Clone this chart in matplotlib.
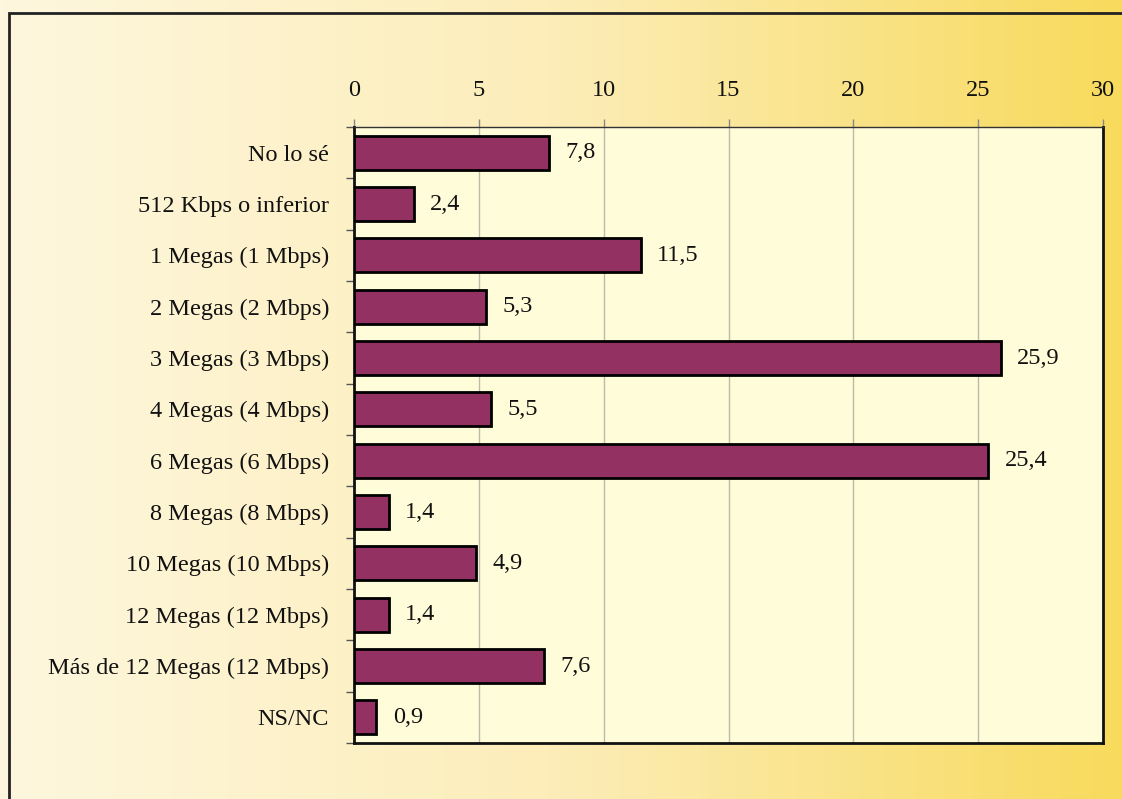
import numpy as np
import matplotlib.pyplot as plt
from matplotlib.colors import LinearSegmentedColormap
from matplotlib.patches import Rectangle

categorias = ['No lo sé', '512 Kbps o inferior', '1 Megas (1 Mbps)', '2 Megas (2 Mbps)',
              '3 Megas (3 Mbps)', '4 Megas (4 Mbps)', '6 Megas (6 Mbps)', '8 Megas (8 Mbps)',
              '10 Megas (10 Mbps)', '12 Megas (12 Mbps)', 'Más de 12 Megas (12 Mbps)', 'NS/NC']
valores = [7.8, 2.4, 11.5, 5.3, 25.9, 5.5, 25.4, 1.4, 4.9, 1.4, 7.6, 0.9]
ticks_x = [0, 5, 10, 15, 20, 25, 30]

plt.rcParams['font.family'] = ['Liberation Serif', 'DejaVu Serif']

fig = plt.figure(figsize=(11.22, 7.99), dpi=100)

# fondo degradado de la figura
bg = fig.add_axes([0, 0, 1, 1], zorder=-10)
cmap_bg = LinearSegmentedColormap.from_list('bg', ['#FEF7DE', '#FCEDB8', '#F8DA5C'])
bg.imshow(np.linspace(0, 1, 512)[None, :], aspect='auto', cmap=cmap_bg, extent=[0, 1, 0, 1])
bg.set_xlim(0, 1)
bg.set_ylim(0, 1)
bg.axis('off')
bg.add_patch(Rectangle((9 / 1122, -0.1), 1.2, 1 - 13 / 799 + 0.1, fill=False,
                       edgecolor='#222222', lw=2, transform=bg.transAxes))

ax = fig.add_axes([354 / 1122, 1 - 743 / 799, (1103 - 354) / 1122, (743 - 127) / 799])
ax.set_facecolor('#FFFCDA')

y = np.arange(len(categorias))
ax.barh(y, valores, height=0.66, color='#943163', edgecolor='black', lw=2, zorder=3)
for yi, v in zip(y, valores):
    ax.text(v + 0.65, yi, f'{v:.1f}'.replace('.', ','), va='center', ha='left',
            fontsize=17.5, color='#111111')

ax.set_xlim(0, 30)
ax.set_ylim(len(categorias) - 0.5, -0.5)
ax.set_xticks(ticks_x)
ax.xaxis.tick_top()
ax.tick_params(axis='x', length=6, width=1, color='#888888', labelsize=17.5, pad=13,
               labelcolor='#111111')
ax.set_yticks(y)
ax.set_yticklabels(categorias)
ax.set_yticks(np.arange(len(categorias) + 1) - 0.5, minor=True)
ax.tick_params(axis='y', which='major', length=0, labelsize=17.5, pad=18, labelcolor='#111111')
ax.tick_params(axis='y', which='minor', length=6, width=1, color='#555555')
ax.grid(axis='x', color='#BBBBAA', lw=1, zorder=0)

for s in ['left', 'bottom', 'right']:
    ax.spines[s].set_linewidth(2)
    ax.spines[s].set_color('#111111')
ax.spines['top'].set_linewidth(1)
ax.spines['top'].set_color('#333333')

fig.savefig('out.png', dpi=100)
